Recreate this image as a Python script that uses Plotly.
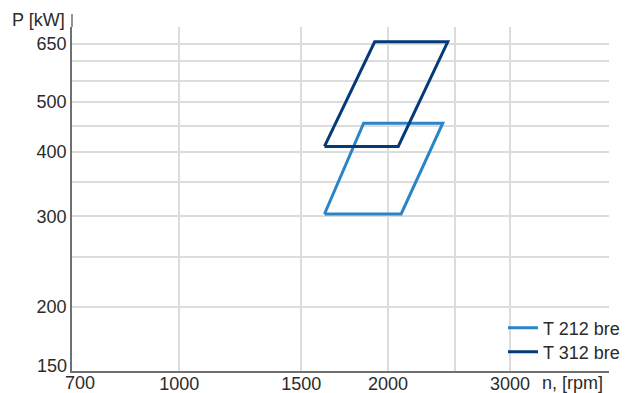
import math
import plotly.graph_objects as go

# Operating envelopes (engine speed vs. power) for the two engine types
series_names = ["T 212 bre", "T 312 bre"]
series_colors = ["#2a84c8", "#053a78"]

speed_t212 = [1620, 2090, 2400, 1845, 1620]
power_t212 = [303, 303, 455, 455, 303]

speed_t312 = [1620, 2070, 2440, 1914, 1620]
power_t312 = [410, 410, 655, 655, 410]

# Axis ticks and grid positions (the corner values are labelled separately,
# nudged away from the axis corner so they do not collide)
x_tick_values = [1000, 1500, 2000, 3000]
x_tick_labels = ["1000", "1500", "2000", "3000"]
x_corner_value, x_corner_label = 700, "700"
x_grid_values = [1000, 1500, 2000, 2500, 3000]

y_tick_values = [200, 300, 400, 500, 650]
y_tick_labels = ["200", "300", "400", "500", "650"]
y_corner_value, y_corner_label = 150, "150"
y_grid_values = [200, 250, 300, 350, 400, 450, 500, 550, 600, 650]

x_range = [700, 4170]
y_range = [150, 700]

FONT = "Liberation Sans"
FONT_SIZE = 18
TEXT_COLOR = "#2b2b2b"
GRID_COLOR = "#dcdcdc"
AXIS_COLOR = "#707070"
TICK_FONT = dict(family=FONT, size=FONT_SIZE, color=TEXT_COLOR)

# Plot area in pixels: left 72, right 609, top 27, bottom 371
PLOT_H = 344

fig = go.Figure()
legend_ids = ["legend", "legend2"]
for name, color, xs, ys, lg in [
    (series_names[0], series_colors[0], speed_t212, power_t212, legend_ids[0]),
    (series_names[1], series_colors[1], speed_t312, power_t312, legend_ids[1]),
]:
    fig.add_trace(go.Scatter(
        x=xs, y=ys, mode="lines", name=name, legend=lg,
        line=dict(color=color, width=3),
        hoverinfo="skip",
    ))

legend_style = dict(
    x=(503 - 72) / 537, xanchor="left", yanchor="middle",
    bgcolor="rgba(0,0,0,0)", font=TICK_FONT,
)

fig.update_layout(
    width=636, height=393,
    margin=dict(l=72, r=27, t=27, b=22, autoexpand=False),
    paper_bgcolor="white", plot_bgcolor="white",
    font=TICK_FONT,
    showlegend=True,
    legend=dict(y=(371 - 328) / PLOT_H, **legend_style),
    legend2=dict(y=(371 - 352) / PLOT_H, **legend_style),
)

fig.update_xaxes(
    type="log", automargin=False,
    range=[math.log10(x_range[0]), math.log10(x_range[1])],
    tickmode="array", tickvals=x_tick_values, ticktext=x_tick_labels,
    ticks="", ticklabelstandoff=-4, showgrid=False, zeroline=False,
    showline=True, linecolor=AXIS_COLOR, linewidth=1.5,
    minor=dict(tickmode="array", tickvals=x_grid_values, showgrid=True,
               gridcolor=GRID_COLOR, gridwidth=1.5, ticks=""),
    tickfont=TICK_FONT,
)

fig.update_yaxes(
    type="log", automargin=False,
    range=[math.log10(y_range[0]), math.log10(y_range[1])],
    tickmode="array", tickvals=y_tick_values, ticktext=y_tick_labels,
    ticks="", showgrid=False, zeroline=False,
    showline=True, linecolor=AXIS_COLOR, linewidth=1.5,
    minor=dict(tickmode="array", tickvals=y_grid_values, showgrid=True,
               gridcolor=GRID_COLOR, gridwidth=1.5, ticks=""),
    tickfont=TICK_FONT,
)

# Corner tick labels
fig.add_annotation(
    text=x_corner_label, x=math.log10(x_corner_value), xref="x",
    y=(371 - 383) / PLOT_H, yref="paper",
    xanchor="center", yanchor="middle", xshift=8, borderpad=0,
    showarrow=False, font=TICK_FONT,
)
fig.add_annotation(
    text=y_corner_label, x=0, xref="paper",
    y=math.log10(y_corner_value), yref="y",
    xanchor="right", yanchor="middle", xshift=-4, yshift=5, borderpad=0,
    showarrow=False, font=TICK_FONT,
)

# The vertical axis line continues a little above the plotting area
fig.add_shape(
    type="line", xref="paper", yref="paper",
    x0=0, x1=0, y0=1, y1=1 + 13 / PLOT_H,
    line=dict(color=AXIS_COLOR, width=1.5),
)

# Axis titles
fig.add_annotation(
    text="P [kW]", xref="paper", yref="paper",
    x=0, y=(371 - 20) / PLOT_H, xanchor="right", yanchor="middle",
    xshift=-5, showarrow=False, font=TICK_FONT,
)
fig.add_annotation(
    text="n, [rpm]", xref="paper", yref="paper",
    x=(604 - 72) / 537, y=(371 - 383) / PLOT_H, xanchor="right", yanchor="middle",
    borderpad=0, showarrow=False, font=TICK_FONT,
)

fig.write_html("out.html")
